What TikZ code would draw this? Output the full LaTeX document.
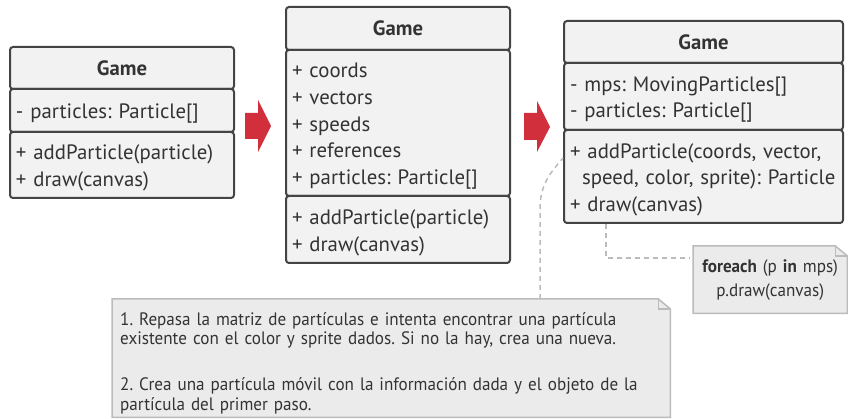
\documentclass[tikz,border=0pt]{standalone}
\usepackage{fontspec}
\setmainfont{PT Sans}
\newfontfamily\narrowfont[FakeStretch=0.95]{PT Sans}
\usetikzlibrary{backgrounds,calc}
\definecolor{boxfill}{HTML}{F2F2F2}
\definecolor{boxline}{HTML}{444444}
\definecolor{txt}{HTML}{333333}
\definecolor{notefill}{HTML}{EBEBEB}
\definecolor{noteline}{HTML}{BBBBBB}
\definecolor{arrowred}{HTML}{D12F3B}
\frenchspacing
\begin{document}
\begin{tikzpicture}[x=1pt,y=-1pt,
  compbase/.style={draw=boxline, fill=boxfill, line width=2pt, rounded corners=3pt,
    anchor=north west, inner xsep=6pt, inner ysep=0pt, text=txt},
  comp/.style={compbase, align=left, font=\fontsize{20.8}{26.7}\selectfont,
    execute at begin node={\rule{0pt}{21pt}}},
  hdr/.style={compbase, align=center, font=\fontsize{20.7}{24}\selectfont\bfseries},
  notetxt/.style={anchor=north west, inner xsep=8pt, inner ysep=0pt, text=txt,
    font=\narrowfont\fontsize{18}{19.5}\selectfont},
  noteshape/.style={draw=noteline, fill=notefill, line width=1.5pt},
  foldline/.style={draw=noteline, line width=1.5pt},
  conn/.style={draw=noteline, line width=1.5pt, dash pattern=on 5pt off 4pt},
  redarrow/.style={fill=arrowred}
]
\useasboundingbox (0,0) rectangle (848,419);

% class 1
\node[hdr,  text width=212pt, minimum height=42pt] (g1h) at (9,46) {Game};
\node[comp, text width=212pt, minimum height=43pt] (g1a) at (9,88) {- particles: Particle[]};
\node[comp, text width=212pt, minimum height=66pt] (g1m) at (9,131) {+ addParticle(particle)\\+ draw(canvas)};

% class 2
\node[hdr,  text width=212pt, minimum height=43pt] (g2h) at (285,6) {Game};
\node[comp, text width=212pt, minimum height=146pt] (g2a) at (285,49) {+ coords\\+ vectors\\+ speeds\\+ references\\+ particles: Particle[]};
\node[comp, text width=212pt, minimum height=67pt] (g2m) at (285,195) {+ addParticle(particle)\\+ draw(canvas)};

% class 3
\node[hdr,  text width=267pt, minimum height=42pt] (g3h) at (563,20) {Game};
\node[comp, text width=267pt, minimum height=67pt] (g3a) at (563,62) {- mps: MovingParticles[]\\- particles: Particle[]};
\node[comp, text width=267pt, minimum height=93pt] (g3m) at (563,129) {+ addParticle(coords, vector,\\\hspace*{12pt}speed, color, sprite): Particle\\+ draw(canvas)};

% red arrows
\fill[redarrow] (245,113) -- (258,113) -- (258,100) -- (271,126) -- (258,152) -- (258,139) -- (245,139) -- cycle;
\fill[redarrow] (524,113) -- (537,113) -- (537,101) -- (550,127) -- (537,152) -- (537,140) -- (524,140) -- cycle;

% notes
\node[notetxt, align=left, text width=542pt, minimum height=118pt] (n1) at (112,299)
  {\rule{0pt}{23pt}1. Repasa la matriz de partículas e intenta encontrar una partícula\\
   existente con el color y sprite dados. Si no la hay, crea una nueva.\\[26.5pt]
   2. Crea una partícula móvil con la información dada y el objeto de la\\
   partícula del primer paso.};
\node[notetxt, align=center, inner xsep=5pt, text width=144pt, minimum height=67pt,
  font=\narrowfont\fontsize{18}{24}\selectfont] (n2) at (693,246)
  {{\bfseries foreach} (p {\bfseries in} mps)\\p.draw(canvas)};

\begin{scope}[on background layer]
  \draw[noteshape] (n1.north west) -- ([xshift=-12pt]n1.north east) -- ([yshift=-10pt]n1.north east) -- (n1.south east) -- (n1.south west) -- cycle;
  \draw[foldline] ([xshift=-12pt]n1.north east) -- ([xshift=-12pt,yshift=-10pt]n1.north east) -- ([yshift=-10pt]n1.north east);
  \draw[noteshape] (n2.north west) -- ([xshift=-12pt]n2.north east) -- ([yshift=-10pt]n2.north east) -- (n2.south east) -- (n2.south west) -- cycle;
  \draw[foldline] ([xshift=-12pt]n2.north east) -- ([xshift=-12pt,yshift=-10pt]n2.north east) -- ([yshift=-10pt]n2.north east);
\end{scope}

% connectors
\draw[conn] ($(n1.north west)+(428,0)$) -- ++(0,-90) .. controls +(0,-25) and +(-12,14) .. ($(g3m.north west)+(0,29)$);
\draw[conn] ($(g3m.south west)+(43,0)$) |- ($(n2.north west)+(-3,12)$);
\end{tikzpicture}
\end{document}
